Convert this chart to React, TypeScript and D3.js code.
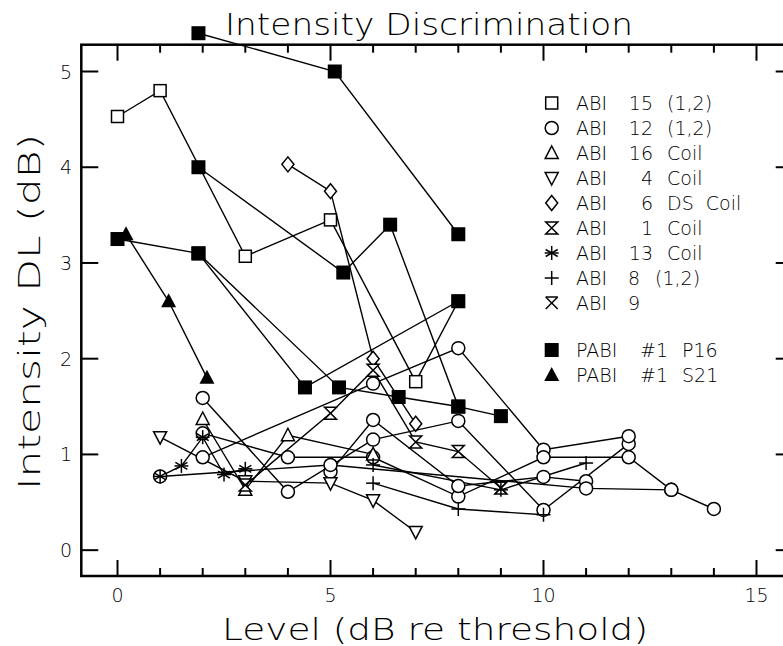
import React from "react";
import * as d3 from "d3";

type Pt = [number, number];

// Level (dB re threshold), intensity DL (dB); each inner list is one connected run
const abi15Runs: Pt[][] = [
  [[0, 4.53], [1, 4.8], [3, 3.07], [5, 3.45], [7, 1.76], [8, 2.6]],
];
const abi12Runs: Pt[][] = [
  [[2, 1.59], [4, 0.61], [6, 1.155], [8, 1.35], [10, 0.42], [12, 1.11]],
  [[2, 0.97], [6, 1.74], [8, 2.11], [10, 1.05], [12, 1.19]],
  [[2, 1.22], [4, 0.97], [6, 0.97], [8, 0.56], [10, 0.97], [12, 0.97], [13, 0.63], [14, 0.43]],
  [[5, 0.82], [6, 1.36], [8, 0.67], [10, 0.765], [11, 0.72]],
  [[1, 0.77], [5, 0.89], [11, 0.645], [13, 0.63]],
];
const abi16Runs: Pt[][] = [
  [[2, 1.37], [3, 0.63], [4, 1.2], [6, 1.0]],
];
const abi4Runs: Pt[][] = [
  [[1, 1.18], [3, 0.72], [5, 0.7], [6, 0.52], [7, 0.19]],
];
const abi6Runs: Pt[][] = [
  [[4, 4.03], [5, 3.75], [6, 2.0], [7, 1.32]],
];
const abi1Runs: Pt[][] = [
  [[3, 0.68], [5, 1.43], [6, 1.88], [7, 1.13], [8, 1.03], [9, 0.65]],
];
const abi13Runs: Pt[][] = [
  [[1, 0.77], [1.5, 0.88], [2, 1.18], [2.5, 0.79], [3, 0.85]],
];
const abi8Runs: Pt[][] = [
  [[6, 0.89], [9, 0.63], [11, 0.91]],
  [[6, 0.7], [8, 0.43], [10, 0.37]],
];
const abi9Runs: Pt[][] = [
  [[9, 0.65]],
];
const pabiP16Runs: Pt[][] = [
  [[1.9, 5.4], [5.1, 5.0], [8, 3.3]],
  [[1.9, 4.0], [5.3, 2.9], [6.4, 3.4], [8, 1.5], [9, 1.4]],
  [[0, 3.25], [1.9, 3.1], [4.4, 1.7], [8, 2.6]],
  [[1.9, 3.1], [5.2, 1.7], [6.6, 1.6], [8, 1.5]],
];
const pabiS21Runs: Pt[][] = [
  [[0.2, 3.3], [1.2, 2.6], [2.1, 1.8]],
];

const legendNames: string[][] = [
  ["ABI", "15", "(1,2)"],
  ["ABI", "12", "(1,2)"],
  ["ABI", "16", "Coil"],
  ["ABI", "4", "Coil"],
  ["ABI", "6", "DS  Coil"],
  ["ABI", "1", "Coil"],
  ["ABI", "13", "Coil"],
  ["ABI", "8", "(1,2)"],
  ["ABI", "9", ""],
];
const legendPabi: string[][] = [
  ["PABI", "#1", "P16"],
  ["PABI", "#1", "S21"],
];

const xTicksMajor = [0, 5, 10, 15];
const xTicksMinor = d3.range(0, 16);
const yTicks = [0, 1, 2, 3, 4, 5];

type Shape =
  | "square" | "circle" | "triUp" | "triDown" | "diamond"
  | "hourglass" | "asterisk" | "plus" | "xbar" | "fSquare" | "fTri";

const series: { runs: Pt[][]; shape: Shape }[] = [
  { runs: abi15Runs, shape: "square" },
  { runs: abi12Runs, shape: "circle" },
  { runs: abi16Runs, shape: "triUp" },
  { runs: abi4Runs, shape: "triDown" },
  { runs: abi6Runs, shape: "diamond" },
  { runs: abi1Runs, shape: "hourglass" },
  { runs: abi13Runs, shape: "asterisk" },
  { runs: abi8Runs, shape: "plus" },
  { runs: abi9Runs, shape: "xbar" },
  { runs: pabiP16Runs, shape: "fSquare" },
  { runs: pabiS21Runs, shape: "fTri" },
];
const legendShapes: Shape[] = [
  "square", "circle", "triUp", "triDown", "diamond", "hourglass", "asterisk", "plus", "xbar",
];

const W = 783;
const H = 646;
const FONT = "'DejaVu Sans', 'Liberation Sans', sans-serif";

const x = d3.scaleLinear().domain([-0.85, 15.85]).range([81.3, 792.7]);
const y = d3.scaleLinear().domain([-0.27, 5.28]).range([576, 44.7]);

function Marker({ shape, cx, cy }: { shape: Shape; cx: number; cy: number }) {
  const s = 6.5;
  const stroke = "#000";
  const sw = 1.5;
  switch (shape) {
    case "square":
      return <rect x={cx - s + 0.5} y={cy - s + 0.5} width={2 * s - 1} height={2 * s - 1} fill="#fff" stroke={stroke} strokeWidth={sw} />;
    case "fSquare":
      return <rect x={cx - 7} y={cy - 7} width={14} height={14} fill="#000" />;
    case "circle":
      return <circle cx={cx} cy={cy} r={s} fill="#fff" stroke={stroke} strokeWidth={sw} />;
    case "triUp":
      return <polygon points={`${cx},${cy - 7} ${cx + 6.5},${cy + 5.5} ${cx - 6.5},${cy + 5.5}`} fill="#fff" stroke={stroke} strokeWidth={sw} />;
    case "fTri":
      return <polygon points={`${cx},${cy - 8} ${cx + 7.5},${cy + 6} ${cx - 7.5},${cy + 6}`} fill="#000" />;
    case "triDown":
      return <polygon points={`${cx},${cy + 7} ${cx + 6.5},${cy - 5.5} ${cx - 6.5},${cy - 5.5}`} fill="#fff" stroke={stroke} strokeWidth={sw} />;
    case "diamond":
      return <polygon points={`${cx},${cy - 7.5} ${cx + 6},${cy} ${cx},${cy + 7.5} ${cx - 6},${cy}`} fill="#fff" stroke={stroke} strokeWidth={sw} />;
    case "hourglass":
      return <polygon points={`${cx - 6},${cy - 6} ${cx + 6},${cy - 6} ${cx - 6},${cy + 6} ${cx + 6},${cy + 6}`} fill="#fff" stroke={stroke} strokeWidth={sw} strokeLinejoin="miter" />;
    case "asterisk":
      return (
        <g stroke={stroke} strokeWidth={sw}>
          <line x1={cx} y1={cy - 7} x2={cx} y2={cy + 7} />
          <line x1={cx - 6} y1={cy - 3.5} x2={cx + 6} y2={cy + 3.5} />
          <line x1={cx - 6} y1={cy + 3.5} x2={cx + 6} y2={cy - 3.5} />
          <line x1={cx - 7} y1={cy} x2={cx + 7} y2={cy} />
        </g>
      );
    case "plus":
      return (
        <g stroke={stroke} strokeWidth={sw}>
          <line x1={cx} y1={cy - 7} x2={cx} y2={cy + 7} />
          <line x1={cx - 7} y1={cy} x2={cx + 7} y2={cy} />
        </g>
      );
    case "xbar":
      return (
        <g stroke={stroke} strokeWidth={sw} fill="none">
          <line x1={cx - 6} y1={cy - 6} x2={cx + 6} y2={cy - 6} />
          <line x1={cx - 6} y1={cy - 6} x2={cx + 6} y2={cy + 6} />
          <line x1={cx + 6} y1={cy - 6} x2={cx - 6} y2={cy + 6} />
        </g>
      );
  }
  return null;
}

export default function App() {
  const line = d3.line<Pt>().x((d) => x(d[0])).y((d) => y(d[1]));
  const left = x.range()[0];
  const right = x.range()[1];
  const top = y.range()[1];
  const bottom = y.range()[0];

  const legendX = 551.7;
  const legendText = 576;
  const rowY = (i: number) => 103 + i * 25;

  return (
    <svg
      width={W}
      height={H}
      viewBox={`0 0 ${W} ${H}`}
      style={{ position: "absolute", left: 0, top: 0, background: "#fff" }}
      fontFamily={FONT}
    >
      <rect width={W} height={H} fill="#fff" />

      {/* frame */}
      <rect x={left} y={top} width={right - left} height={bottom - top} fill="none" stroke="#000" strokeWidth={2.5} />

      {/* x ticks, bottom and top */}
      {xTicksMinor.map((t) => {
        const len = xTicksMajor.includes(t) ? 16 : 8;
        return (
          <g key={`xt${t}`} stroke="#000" strokeWidth={2}>
            <line x1={x(t)} x2={x(t)} y1={bottom} y2={bottom - len} />
            <line x1={x(t)} x2={x(t)} y1={top} y2={top + len} />
          </g>
        );
      })}
      {/* y ticks, left and right */}
      {yTicks.map((t) => (
        <g key={`yt${t}`} stroke="#000" strokeWidth={2}>
          <line x1={left} x2={left + 17} y1={y(t)} y2={y(t)} />
          <line x1={right} x2={right - 17} y1={y(t)} y2={y(t)} />
        </g>
      ))}

      {/* tick labels */}
      {xTicksMajor.map((t) => (
        <text key={`xl${t}`} x={x(t)} y={602} textAnchor="middle" fontSize={19} fontWeight={300}>
          {t}
        </text>
      ))}
      {yTicks.map((t) => (
        <text key={`yl${t}`} x={72} y={y(t) + 7} textAnchor="end" fontSize={19} fontWeight={300}>
          {t}
        </text>
      ))}

      {/* titles */}
      <text x={429} y={35} textAnchor="middle" fontSize={30} fontWeight={300} textLength={408} lengthAdjust="spacingAndGlyphs">
        Intensity Discrimination
      </text>
      <text x={435} y={640} textAnchor="middle" fontSize={30} fontWeight={300} textLength={426} lengthAdjust="spacingAndGlyphs">
        Level (dB re threshold)
      </text>
      <text
        transform={`translate(40, 312) rotate(-90)`}
        textAnchor="middle"
        fontSize={30}
        fontWeight={300}
        textLength={356}
        lengthAdjust="spacingAndGlyphs"
      >
        Intensity DL (dB)
      </text>

      {/* connecting lines */}
      {series.map((s, si) =>
        s.runs.map((r, ri) =>
          r.length > 1 ? (
            <path key={`l${si}-${ri}`} d={line(r) ?? ""} fill="none" stroke="#000" strokeWidth={1.4} />
          ) : null
        )
      )}
      {/* markers */}
      {series.map((s, si) =>
        s.runs.map((r, ri) =>
          r.map((p, pi) => <Marker key={`m${si}-${ri}-${pi}`} shape={s.shape} cx={x(p[0])} cy={y(p[1])} />)
        )
      )}

      {/* legend */}
      {legendNames.map((n, i) => {
        const cy = rowY(i);
        const twoDigit = n[1].length === 2;
        return (
          <g key={`lg${i}`}>
            <Marker shape={legendShapes[i]} cx={legendX} cy={cy} />
            <text x={legendText} y={cy + 7} fontSize={19} fontWeight={300}>{n[0]}</text>
            {twoDigit || n[2] === "Coil" || n[2].includes("DS") ? (
              <>
                <text x={653} y={cy + 7} fontSize={19} fontWeight={300} textAnchor="end">{n[1]}</text>
                <text x={667} y={cy + 7} fontSize={19} fontWeight={300} style={{ whiteSpace: "pre" }}>{n[2]}</text>
              </>
            ) : (
              <>
                <text x={628} y={cy + 7} fontSize={19} fontWeight={300}>{n[1]}</text>
                <text x={655} y={cy + 7} fontSize={19} fontWeight={300}>{n[2]}</text>
              </>
            )}
          </g>
        );
      })}
      {legendPabi.map((n, i) => {
        const cy = 350 + i * 25;
        return (
          <g key={`lp${i}`}>
            <Marker shape={i === 0 ? "fSquare" : "fTri"} cx={legendX} cy={cy} />
            <text x={legendText} y={cy + 7} fontSize={19} fontWeight={300}>{n[0]}</text>
            <text x={640} y={cy + 7} fontSize={19} fontWeight={300}>{n[1]}</text>
            <text x={682} y={cy + 7} fontSize={19} fontWeight={300}>{n[2]}</text>
          </g>
        );
      })}
    </svg>
  );
}
